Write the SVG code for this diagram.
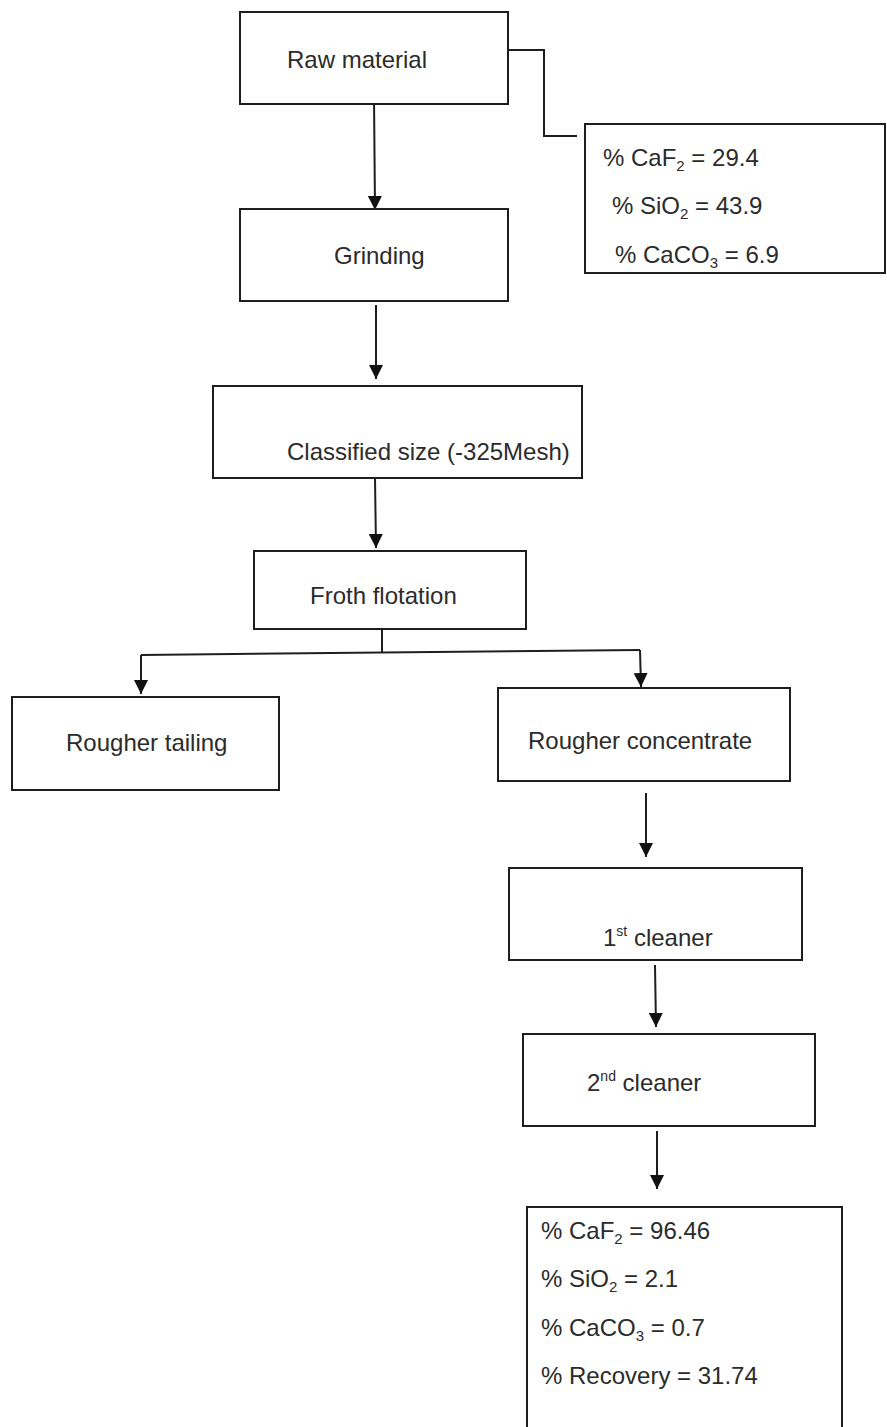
<svg xmlns="http://www.w3.org/2000/svg" width="887" height="1427" viewBox="0 0 887 1427">
  <style>
    .box { fill: #ffffff; stroke: #1e1e1e; stroke-width: 2; }
    .lbl { font-family: "Liberation Sans", Arial, sans-serif; font-size: 24px; fill: #2b2b2b; }
    .sub { font-size: 15px; }
    .sup { font-size: 14px; }
    .wire { fill: none; stroke: #1e1e1e; stroke-width: 2; }
  </style>
  <defs>
    <marker id="head" viewBox="0 0 14 14" refX="14" refY="7" markerWidth="14" markerHeight="14" markerUnits="userSpaceOnUse" orient="auto">
      <path d="M0,0 L14,7 L0,14 Z" fill="#111111"/>
    </marker>
  </defs>
  <rect width="887" height="1427" fill="#ffffff"/>

  <!-- connectors -->
  <g id="connectors">
    <path class="wire" d="M374,97 L375,210" marker-end="url(#head)"/>
    <path class="wire" d="M508,50 L544,50 L544,136 L577,136"/>
    <path class="wire" d="M376,305 L376,379" marker-end="url(#head)"/>
    <path class="wire" d="M375,478 L376,548" marker-end="url(#head)"/>
    <path class="wire" d="M382,629 L382,653"/>
    <path class="wire" d="M141,655 L640,650"/>
    <path class="wire" d="M141,655 L141,694" marker-end="url(#head)"/>
    <path class="wire" d="M640,650 L641,687" marker-end="url(#head)"/>
    <path class="wire" d="M646,793 L646,857" marker-end="url(#head)"/>
    <path class="wire" d="M655,965 L656,1027" marker-end="url(#head)"/>
    <path class="wire" d="M657,1131 L657,1189" marker-end="url(#head)"/>
  </g>

  <g id="raw-material">
    <rect class="box" x="240" y="12" width="268" height="92"/>
    <text class="lbl" x="287" y="68">Raw material</text>
  </g>

  <g id="feed-composition">
    <rect class="box" x="585" y="124" width="300" height="149"/>
    <text class="lbl" x="603" y="166">% CaF<tspan class="sub" dy="5">2</tspan><tspan dy="-5"> = 29.4</tspan></text>
    <text class="lbl" x="612" y="214">% SiO<tspan class="sub" dy="5">2</tspan><tspan dy="-5"> = 43.9</tspan></text>
    <text class="lbl" x="615" y="263">% CaCO<tspan class="sub" dy="5">3</tspan><tspan dy="-5"> = 6.9</tspan></text>
  </g>

  <g id="grinding">
    <rect class="box" x="240" y="209" width="268" height="92"/>
    <text class="lbl" x="334" y="264">Grinding</text>
  </g>

  <g id="classified-size">
    <rect class="box" x="213" y="386" width="369" height="92"/>
    <text class="lbl" x="287" y="460">Classified size (-325Mesh)</text>
  </g>

  <g id="froth-flotation">
    <rect class="box" x="254" y="551" width="272" height="78"/>
    <text class="lbl" x="310" y="604">Froth flotation</text>
  </g>

  <g id="rougher-tailing">
    <rect class="box" x="12" y="697" width="267" height="93"/>
    <text class="lbl" x="66" y="751">Rougher tailing</text>
  </g>

  <g id="rougher-concentrate">
    <rect class="box" x="498" y="688" width="292" height="93"/>
    <text class="lbl" x="528" y="749">Rougher concentrate</text>
  </g>

  <g id="first-cleaner">
    <rect class="box" x="509" y="868" width="293" height="92"/>
    <text class="lbl" x="603" y="946">1<tspan class="sup" dy="-10">st</tspan><tspan dy="10"> cleaner</tspan></text>
  </g>

  <g id="second-cleaner">
    <rect class="box" x="523" y="1034" width="292" height="92"/>
    <text class="lbl" x="587" y="1091">2<tspan class="sup" dy="-10">nd</tspan><tspan dy="10"> cleaner</tspan></text>
  </g>

  <g id="concentrate-grade">
    <rect class="box" x="527" y="1207" width="315" height="240"/>
    <text class="lbl" x="541" y="1239">% CaF<tspan class="sub" dy="5">2</tspan><tspan dy="-5"> = 96.46</tspan></text>
    <text class="lbl" x="541" y="1287">% SiO<tspan class="sub" dy="5">2</tspan><tspan dy="-5"> = 2.1</tspan></text>
    <text class="lbl" x="541" y="1336">% CaCO<tspan class="sub" dy="5">3</tspan><tspan dy="-5"> = 0.7</tspan></text>
    <text class="lbl" x="541" y="1384">% Recovery = 31.74</text>
  </g>
</svg>
